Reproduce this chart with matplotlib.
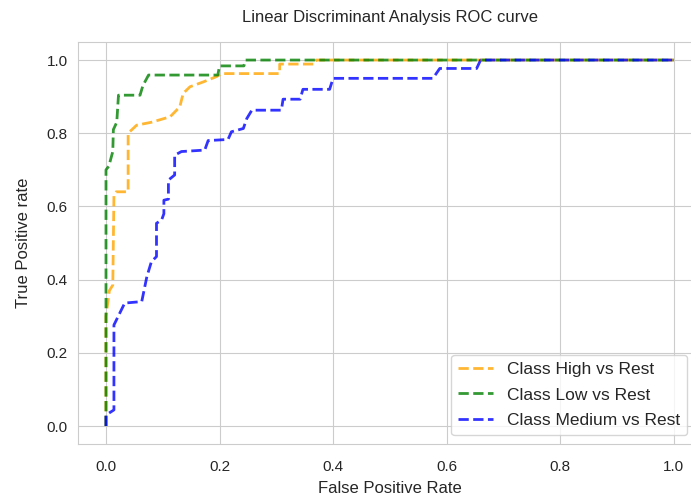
import matplotlib
matplotlib.use("Agg")
import matplotlib.pyplot as plt
import seaborn as sns

# ROC points (fpr, tpr) for each one-vs-rest class
fpr_high = [0.0, 0.0, 0.006, 0.012, 0.014, 0.018, 0.025, 0.039, 0.039, 0.054, 0.08, 0.113,
            0.13, 0.136, 0.148, 0.171, 0.195, 0.204, 0.306, 0.306, 0.368, 0.37, 1.0]
tpr_high = [0.0, 0.30, 0.37, 0.385, 0.63, 0.64, 0.64, 0.64, 0.80, 0.822, 0.83, 0.845,
            0.872, 0.909, 0.927, 0.94, 0.955, 0.963, 0.963, 0.989, 0.989, 1.0, 1.0]

fpr_low = [0.0, 0.0, 0.005, 0.012, 0.013, 0.019, 0.022, 0.06, 0.065, 0.075, 0.197, 0.2,
           0.243, 0.246, 1.0]
tpr_low = [0.0, 0.70, 0.71, 0.75, 0.81, 0.83, 0.904, 0.904, 0.93, 0.959, 0.959, 0.984,
           0.984, 1.0, 1.0]

fpr_med = [0.0, 0.0, 0.014, 0.014, 0.033, 0.063, 0.072, 0.08, 0.089, 0.089, 0.098, 0.102,
           0.102, 0.11, 0.11, 0.121, 0.121, 0.133, 0.174, 0.18, 0.215, 0.221, 0.242, 0.248,
           0.257, 0.309, 0.312, 0.342, 0.347, 0.394, 0.4, 0.576, 0.588, 0.653, 0.66, 1.0]
tpr_med = [0.0, 0.03, 0.044, 0.276, 0.336, 0.34, 0.408, 0.449, 0.463, 0.554, 0.563, 0.58,
           0.617, 0.62, 0.672, 0.686, 0.74, 0.75, 0.754, 0.78, 0.783, 0.804, 0.813, 0.84,
           0.863, 0.863, 0.893, 0.893, 0.92, 0.92, 0.95, 0.95, 0.977, 0.977, 1.0, 1.0]

class_names = ["High", "Low", "Medium"]
colors = ["orange", "green", "blue"]

sns.set_style("whitegrid")
plt.rcParams["font.family"] = ["Liberation Sans", "DejaVu Sans"]

fig = plt.figure(figsize=(6.91, 4.97), dpi=100)
ax = fig.add_axes([0.1123, 0.106, 0.9036, 0.81])

curves = [(fpr_high, tpr_high), (fpr_low, tpr_low), (fpr_med, tpr_med)]
for (fpr, tpr), name, c in zip(curves, class_names, colors):
    ax.plot(fpr, tpr, linestyle="--", color=c, alpha=0.8, lw=2,
            label="Class %s vs Rest" % name)

ax.set_title("Linear Discriminant Analysis ROC curve", fontsize=12, color=".15", pad=14)
ax.set_xlabel("False Positive Rate", fontsize=12, color=".15", labelpad=5)
ax.set_ylabel("True Positive rate", fontsize=12, color=".15", labelpad=11)
ax.tick_params(axis="x", labelsize=11, colors=".15", pad=8)
ax.tick_params(axis="y", labelsize=11, colors=".15")
ax.legend(loc="lower right", bbox_to_anchor=(0.976, 0.023), borderaxespad=0,
          fontsize=12.5, labelspacing=0.6)

plt.savefig("out.png", dpi=100)
